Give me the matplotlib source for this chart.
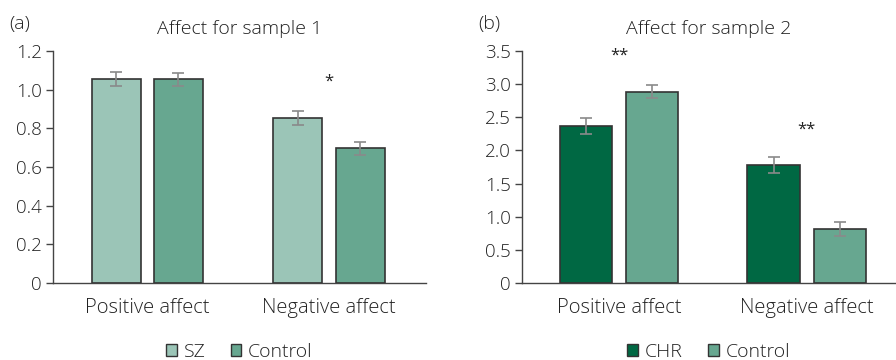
import numpy as np
import matplotlib.pyplot as plt
from matplotlib.patches import Patch

plt.rcParams['font.family'] = ['Open Sans', 'DejaVu Sans']
plt.rcParams['font.weight'] = 'light'
plt.rcParams['axes.titleweight'] = 'light'
plt.rcParams['text.color'] = '#222222'

categories = ["Positive affect", "Negative affect"]

# sample 1
s1_groups = ["SZ", "Control"]
s1_sz = [1.055, 0.855]
s1_sz_err = [0.035, 0.036]
s1_ctrl = [1.055, 0.697]
s1_ctrl_err = [0.033, 0.033]
s1_stars = ["", "*"]
s1_star_y = [None, 1.04]

# sample 2
s2_groups = ["CHR", "Control"]
s2_chr = [2.37, 1.785]
s2_chr_err = [0.12, 0.12]
s2_ctrl = [2.885, 0.815]
s2_ctrl_err = [0.10, 0.10]
s2_stars = ["**", "**"]
s2_star_y = [3.43, 2.31]

light = "#9bc5b7"
mid = "#67a790"
dark = "#006843"
edge = "#333333"
errc = "#8a8a8a"

fig = plt.figure(figsize=(8.96, 3.6), dpi=100)
ax1 = fig.add_axes([0.059, 0.214, 0.4165, 0.644])
ax2 = fig.add_axes([0.5826, 0.214, 0.4164, 0.644])


def draw(ax, a, a_err, b, b_err, ca, cb, width, off, xlim, ylim, yticks, yticklabels,
         stars, star_y, title, tag, names):
    x = np.arange(len(categories))
    kw = dict(edgecolor=edge, linewidth=1.2, zorder=2)
    ax.bar(x - off, a, width, color=ca, **kw)
    ax.bar(x + off, b, width, color=cb, **kw)
    ekw = dict(fmt='none', ecolor=errc, elinewidth=1.2, capsize=4, capthick=1.2, zorder=3)
    ax.errorbar(x - off, a, yerr=a_err, **ekw)
    ax.errorbar(x + off, b, yerr=b_err, **ekw)
    for xi, s, sy in zip(x, stars, star_y):
        if s:
            ax.text(xi, sy, s, ha='center', va='center', fontsize=12, fontweight='normal')
    ax.set_xlim(*xlim)
    ax.set_ylim(*ylim)
    ax.set_yticks(yticks)
    ax.set_yticklabels(yticklabels)
    ax.set_xticks(x)
    ax.set_xticklabels(categories)
    ax.tick_params(axis='x', length=0, pad=11, labelsize=14.5, labelcolor='#222222')
    ax.tick_params(axis='y', length=5, width=1, color='#444444', labelsize=13.5,
                   labelcolor='#222222', pad=3)
    for s in ['top', 'right']:
        ax.spines[s].set_visible(False)
    for s in ['left', 'bottom']:
        ax.spines[s].set_color('#444444')
        ax.spines[s].set_linewidth(1)
    ax.set_title(title, fontsize=14, pad=12, fontweight='light')
    ax.text(-0.117, 1.116, tag, transform=ax.transAxes, fontsize=14, ha='left', va='center')
    handles = [Patch(facecolor=ca, edgecolor=edge, linewidth=1),
               Patch(facecolor=cb, edgecolor=edge, linewidth=1)]
    ax.legend(handles, names, loc='center', bbox_to_anchor=(0.5, -0.297), ncol=2,
              frameon=False, fontsize=14, handlelength=0.55, handleheight=0.55,
              handletextpad=0.35, columnspacing=1.3, borderpad=0, borderaxespad=0)


draw(ax1, s1_sz, s1_sz_err, s1_ctrl, s1_ctrl_err, light, mid, 0.27, 0.171,
     (-0.52, 1.534), (0, 1.2), [0, 0.2, 0.4, 0.6, 0.8, 1.0, 1.2],
     ["0", "0.2", "0.4", "0.6", "0.8", "1.0", "1.2"],
     s1_stars, s1_star_y, "Affect for sample 1", "(a)", s1_groups)

draw(ax2, s2_chr, s2_chr_err, s2_ctrl, s2_ctrl_err, dark, mid, 0.28, 0.176,
     (-0.516, 1.47), (0, 3.5), [0, 0.5, 1.0, 1.5, 2.0, 2.5, 3.0, 3.5],
     ["0", "0.5", "1.0", "1.5", "2.0", "2.5", "3.0", "3.5"],
     s2_stars, s2_star_y, "Affect for sample 2", "(b)", s2_groups)

fig.savefig("out.png", dpi=100)
